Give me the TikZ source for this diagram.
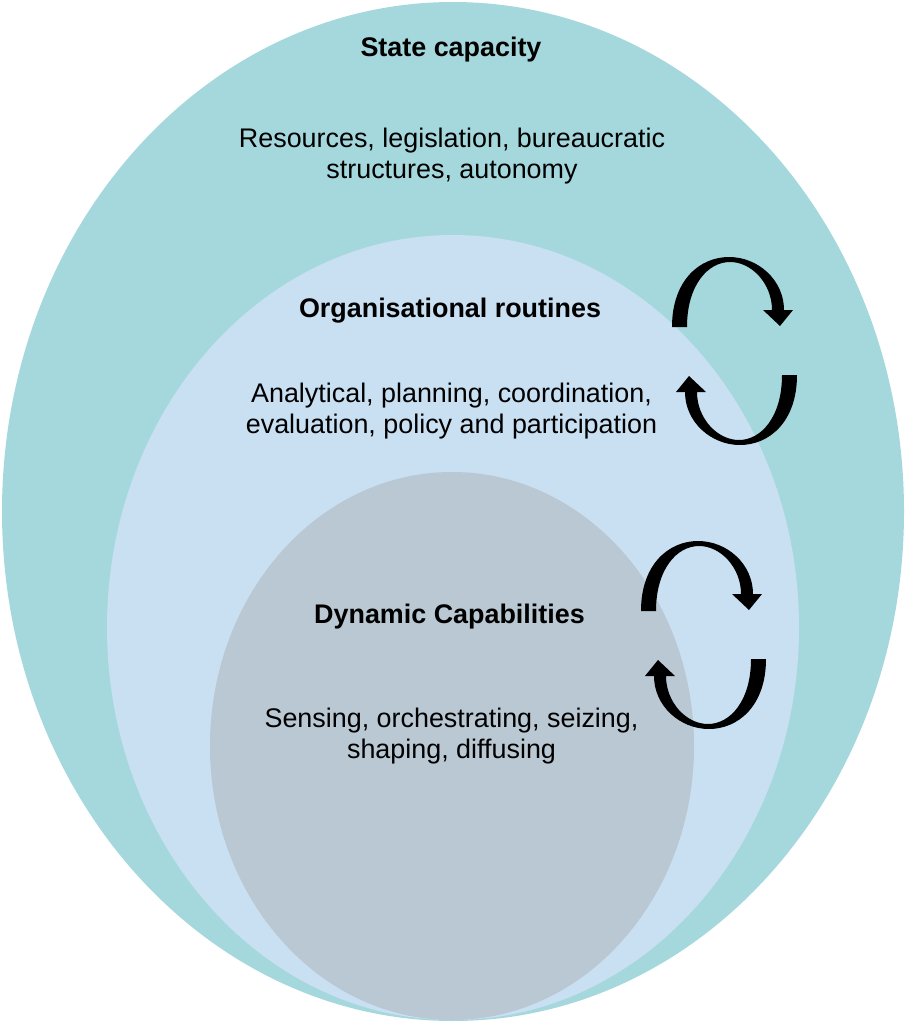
\documentclass[tikz,border=0pt]{standalone}
\usepackage{fontspec}
\setmainfont{Liberation Sans}
\usetikzlibrary{shapes.geometric}
\definecolor{tealzone}{RGB}{165,216,220}
\definecolor{bluezone}{RGB}{201,223,242}
\definecolor{greyzone}{RGB}{185,200,211}
\newcommand\myarcpath{(-62.5,-24) .. controls (-62.5,-71) and (-34.5,-94) .. (-5.5,-94) .. controls (23.5,-94) and (49.5,-71) .. (49.5,-41) -- (58.5,-41) -- (45.5,-25) -- (28.5,-41) -- (37.5,-41) .. controls (37.5,-67) and (17.5,-89) .. (-4.5,-89) .. controls (-26.5,-89) and (-47.5,-66) .. (-47.5,-24) -- cycle}
\begin{document}
\begin{tikzpicture}[x=1pt,y=-1pt,
  zone/.style={ellipse, draw=none, inner sep=0pt, outer sep=0pt},
  head/.style={font=\fontsize{26.9}{31}\selectfont\bfseries, anchor=base, inner sep=0pt},
  body/.style={font=\fontsize{26.9}{31}\selectfont, anchor=base, inner sep=0pt},
  cyclearrows/.pic={\fill[black] \myarcpath; \fill[black, rotate=180] \myarcpath;}]
\useasboundingbox (0,0) rectangle (906,1023);
\node[zone, fill=tealzone, minimum width=902pt, minimum height=1019pt] (outer) at (453,511.5) {};
\node[zone, fill=bluezone, minimum width=692pt, minimum height=785pt] (middle) at (453,627.5) {};
\node[zone, fill=greyzone, minimum width=484pt, minimum height=548pt] (inner) at (452,746) {};
\node[head] (sc) at (451,56) {State capacity};
\node[body] (sc1) at (452,147.5) {Resources, legislation, bureaucratic};
\node[body] (sc2) at (452,178.5) {structures, autonomy};
\node[head] (or) at (450,317) {Organisational routines};
\node[body] (or1) at (451.5,402) {Analytical, planning, coordination,};
\node[body] (or2) at (451.5,433) {evaluation, policy and participation};
\node[head] (dc) at (449.5,623) {Dynamic Capabilities};
\node[body] (dc1) at (451.5,727) {Sensing, orchestrating, seizing,};
\node[body] (dc2) at (451.5,758) {shaping, diffusing};
\pic (cycA) at (734.5,351) {cyclearrows};
\pic (cycB) at (703.5,635) {cyclearrows};
\end{tikzpicture}
\end{document}
